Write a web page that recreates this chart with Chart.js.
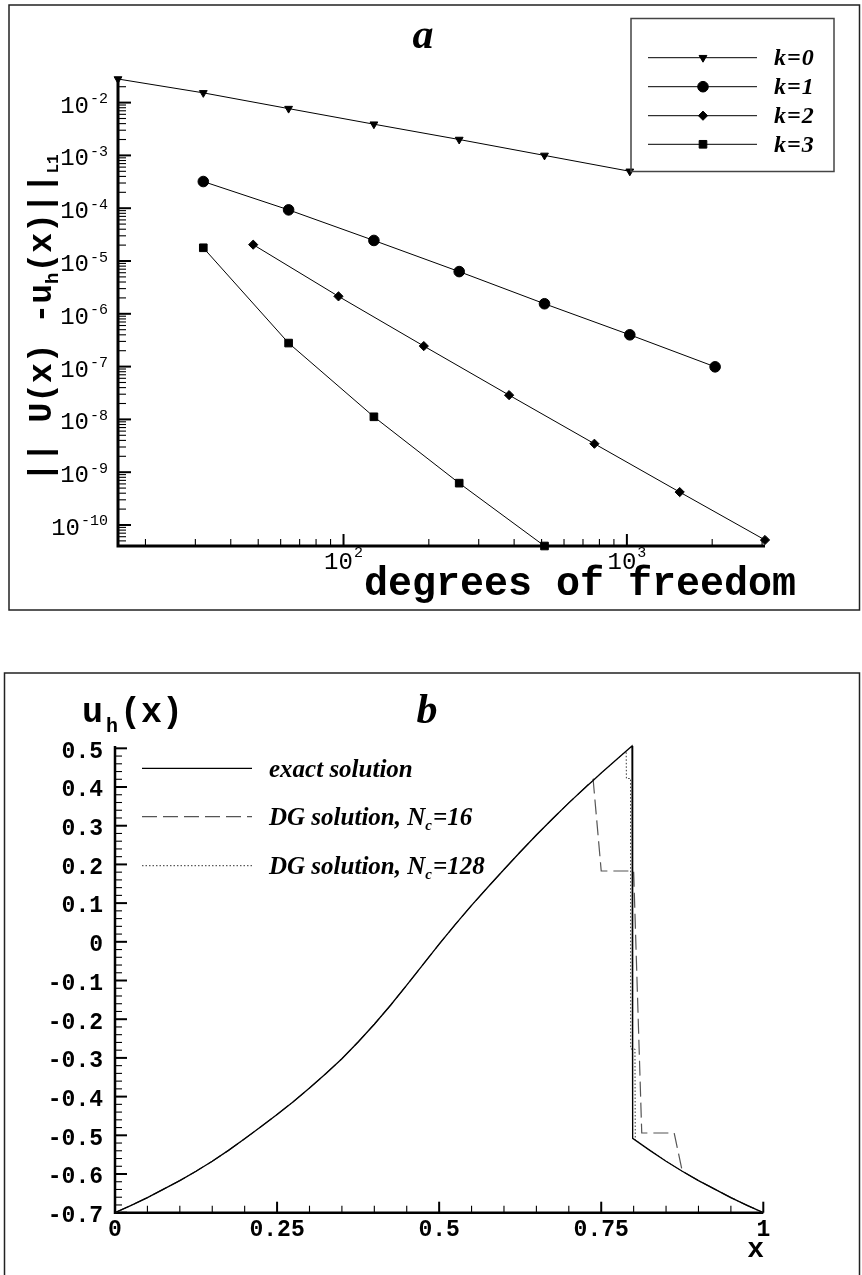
<!DOCTYPE html>
<html>
<head>
<meta charset="utf-8">
<script src="https://cdn.jsdelivr.net/npm/chart.js@4.4.1/dist/chart.umd.min.js"></script>
<style>
  html, body { margin: 0; padding: 0; background: #fff; }
  #wrap { position: relative; width: 862px; height: 1275px; overflow: hidden; }
  canvas { position: absolute; left: 0; }
  #errChart { top: 0; }
  #solChart { top: 640px; }
</style>
</head>
<body>
<div id="wrap">
  <canvas id="errChart" width="862" height="640"></canvas>
  <canvas id="solChart" width="862" height="635"></canvas>
</div>
<script>
// ---------- Panel a: L1 error versus degrees of freedom ----------
const dofK0 = [16, 32, 64, 128, 256, 512, 1024];
const errK0 = [2.8e-2, 1.53e-2, 7.7e-3, 3.9e-3, 2.0e-3, 1.0e-3, 5.0e-4];
const dofK1 = [32, 64, 128, 256, 512, 1024, 2048];
const errK1 = [3.2e-4, 9.3e-5, 2.45e-5, 6.3e-6, 1.55e-6, 4.0e-7, 9.9e-8];
const dofK2 = [48, 96, 192, 384, 768, 1536, 3072];
const errK2 = [2.04e-5, 2.14e-6, 2.45e-7, 2.88e-8, 3.46e-9, 4.2e-10, 5.2e-11];
const dofK3 = [32, 64, 128, 256, 512];
const errK3 = [1.78e-5, 2.79e-7, 1.12e-8, 6.2e-10, 4.0e-11];
const orderNames = ['k=0', 'k=1', 'k=2', 'k=3'];
const errTickExponents = [-2, -3, -4, -5, -6, -7, -8, -9, -10];
const dofTickExponents = [2, 3];

// ---------- Panel b: solution profiles ----------
const exactX = [0, 0.025, 0.05, 0.075, 0.10, 0.125, 0.15, 0.175, 0.20, 0.225, 0.25, 0.275, 0.30, 0.325, 0.35, 0.375,
                0.40, 0.425, 0.45, 0.475, 0.50, 0.525, 0.55, 0.575, 0.60, 0.625, 0.65, 0.675, 0.70, 0.725, 0.7375,
                0.75, 0.775, 0.7975,
                0.7985, 0.825, 0.85, 0.875, 0.90, 0.925, 0.95, 0.975, 1.0];
const exactU = [-0.700, -0.681, -0.661, -0.639, -0.617, -0.593, -0.567, -0.539, -0.509, -0.478, -0.446, -0.413, -0.378, -0.341, -0.302, -0.259,
                -0.213, -0.164, -0.112, -0.059, -0.006, 0.045, 0.094, 0.141, 0.187, 0.232, 0.276, 0.318, 0.359, 0.398, 0.417,
                0.436, 0.473, 0.506,
                -0.508, -0.539, -0.567, -0.593, -0.617, -0.639, -0.661, -0.681, -0.700];
const dg16X = [0, 0.025, 0.05, 0.075, 0.10, 0.125, 0.15, 0.175, 0.20, 0.225, 0.25, 0.275, 0.30, 0.325, 0.35, 0.375,
               0.40, 0.425, 0.45, 0.475, 0.50, 0.525, 0.55, 0.575, 0.60, 0.625, 0.65, 0.675, 0.70, 0.725, 0.7375,
               0.75, 0.80, 0.8125, 0.8625, 0.875, 0.90, 0.925, 0.95, 0.975, 1.0];
const dg16U = [-0.700, -0.681, -0.661, -0.639, -0.617, -0.593, -0.567, -0.539, -0.509, -0.478, -0.446, -0.413, -0.378, -0.341, -0.302, -0.259,
               -0.213, -0.164, -0.112, -0.059, -0.006, 0.045, 0.094, 0.141, 0.187, 0.232, 0.276, 0.318, 0.359, 0.398, 0.420,
               0.183, 0.183, -0.494, -0.494, -0.593, -0.617, -0.639, -0.661, -0.681, -0.700];
const dg128X = [0, 0.025, 0.05, 0.075, 0.10, 0.125, 0.15, 0.175, 0.20, 0.225, 0.25, 0.275, 0.30, 0.325, 0.35, 0.375,
                0.40, 0.425, 0.45, 0.475, 0.50, 0.525, 0.55, 0.575, 0.60, 0.625, 0.65, 0.675, 0.70, 0.725, 0.75, 0.775, 0.7885,
                0.7888, 0.7952, 0.7955, 0.802, 0.8025, 0.825, 0.85, 0.875, 0.90, 0.925, 0.95, 0.975, 1.0];
const dg128U = [-0.700, -0.681, -0.661, -0.639, -0.617, -0.593, -0.567, -0.539, -0.509, -0.478, -0.446, -0.413, -0.378, -0.341, -0.302, -0.259,
                -0.213, -0.164, -0.112, -0.059, -0.006, 0.045, 0.094, 0.141, 0.187, 0.232, 0.276, 0.318, 0.359, 0.398, 0.436, 0.473, 0.493,
                0.422, 0.422, -0.277, -0.277, -0.512, -0.539, -0.567, -0.593, -0.617, -0.639, -0.661, -0.681, -0.700];
const solutionNames = ['exact solution', 'DG solution, N', 'DG solution, N'];
const solutionSubs = ['', 'c', 'c'];
const solutionTails = ['', '=16', '=128'];
const uTickValues = [0.5, 0.4, 0.3, 0.2, 0.1, 0, -0.1, -0.2, -0.3, -0.4, -0.5, -0.6, -0.7];
const uTickLabels = ['0.5', '0.4', '0.3', '0.2', '0.1', '0', '-0.1', '-0.2', '-0.3', '-0.4', '-0.5', '-0.6', '-0.7'];
const xTickValues = [0, 0.25, 0.5, 0.75, 1];
const xTickLabels = ['0', '0.25', '0.5', '0.75', '1'];

const MONO = '"Liberation Mono", "DejaVu Sans Mono", monospace';
const SERIF = '"Liberation Serif", "DejaVu Serif", serif';

const pts = (xs, ys) => xs.map((x, i) => ({ x: x, y: ys[i] }));

function logTicks(min, max) {
  const out = [];
  for (let e = Math.floor(Math.log10(min)); e <= Math.ceil(Math.log10(max)); e++) {
    for (let m = 1; m <= 9; m++) {
      const v = m * Math.pow(10, e);
      if (v >= min * 0.9999 && v <= max * 1.0001) out.push({ v: v, major: m === 1 });
    }
  }
  return out;
}

function drawMarker(ctx, style, radius, rotation, x, y) {
  ctx.save();
  ctx.fillStyle = '#000';
  ctx.strokeStyle = '#000';
  ctx.lineWidth = 1;
  Chart.helpers.drawPoint(ctx, { pointStyle: style, radius: radius, rotation: rotation, borderWidth: 1 }, x, y);
  ctx.restore();
}

const markerSpec = [
  { style: 'triangle', radius: 4.5, rotation: 180 },
  { style: 'circle', radius: 5.3, rotation: 0 },
  { style: 'rectRot', radius: 4.6, rotation: 0 },
  { style: 'rect', radius: 5.4, rotation: 0 }
];

const errorPanel = {
  id: 'errorPanel',
  beforeDatasetsDraw(chart) {
    const { ctx, chartArea: a, scales: { x, y } } = chart;
    ctx.save();
    ctx.strokeStyle = '#000';
    for (const t of logTicks(x.min, x.max)) {
      const px = x.getPixelForValue(t.v);
      ctx.lineWidth = t.major ? 2 : 1.1;
      ctx.beginPath(); ctx.moveTo(px, a.bottom); ctx.lineTo(px, a.bottom - (t.major ? 12 : 7)); ctx.stroke();
    }
    for (const t of logTicks(y.min, y.max)) {
      const py = y.getPixelForValue(t.v);
      ctx.lineWidth = t.major ? 2 : 1.1;
      ctx.beginPath(); ctx.moveTo(a.left, py); ctx.lineTo(a.left + (t.major ? 13 : 8), py); ctx.stroke();
    }
    ctx.lineWidth = 3;
    ctx.beginPath();
    ctx.moveTo(a.left, a.top); ctx.lineTo(a.left, a.bottom); ctx.lineTo(a.right, a.bottom);
    ctx.stroke();
    ctx.restore();
  },
  afterDraw(chart) {
    const { ctx, chartArea: a, scales: { x, y } } = chart;
    ctx.save();
    // frame
    ctx.strokeStyle = '#222';
    ctx.lineWidth = 1.5;
    ctx.strokeRect(9, 5, 850.5, 605);
    ctx.fillStyle = '#000';
    // y tick labels 10^n
    for (const e of errTickExponents) {
      const py = y.getPixelForValue(Math.pow(10, e));
      ctx.font = '15px ' + MONO;
      const sup = String(e);
      const ws = ctx.measureText(sup).width;
      ctx.textAlign = 'left'; ctx.textBaseline = 'alphabetic';
      ctx.fillText(sup, 108 - ws, py + 0.5);
      ctx.font = '24px ' + MONO;
      const wb = ctx.measureText('10').width;
      ctx.fillText('10', 108 - ws - wb - 1, py + 10);
    }
    // x tick labels 10^n
    for (const e of dofTickExponents) {
      const px = x.getPixelForValue(Math.pow(10, e));
      ctx.font = '24px ' + MONO;
      const wb = ctx.measureText('10').width;
      ctx.font = '15px ' + MONO;
      const ws = ctx.measureText(String(e)).width;
      const x0 = px - (wb + ws + 1) / 2;
      ctx.fillText(String(e), x0 + wb + 1, a.bottom + 11);
      ctx.font = '24px ' + MONO;
      ctx.fillText('10', x0, a.bottom + 22.5);
    }
    // x axis title
    ctx.font = 'bold 40px ' + MONO;
    ctx.textAlign = 'left';
    ctx.fillText('degrees of freedom', 364, 595);
    // y axis title (rotated)
    ctx.save();
    ctx.translate(51, 482);
    ctx.rotate(-Math.PI / 2);
    let cx = 0;
    const parts = [['|| U(x) -u', 33, 0], ['h', 19, 7], ['(x)||', 33, 0], ['L1', 16, 7]];
    for (const p of parts) {
      ctx.font = 'bold ' + p[1] + 'px ' + MONO;
      ctx.fillText(p[0], cx, p[2]);
      cx += ctx.measureText(p[0]).width;
    }
    ctx.restore();
    // panel letter
    ctx.font = 'bold italic 42px ' + SERIF;
    ctx.textAlign = 'center';
    ctx.fillText('a', 423, 48);
    // legend
    ctx.strokeStyle = '#444';
    ctx.lineWidth = 1.5;
    ctx.strokeRect(631, 18.5, 203, 153);
    const rows = [57.7, 86.7, 115.7, 144.3];
    ctx.textAlign = 'left';
    ctx.font = 'bold italic 24px ' + SERIF;
    if ('letterSpacing' in ctx) ctx.letterSpacing = '1px';
    rows.forEach((ry, i) => {
      ctx.strokeStyle = '#000';
      ctx.lineWidth = 1;
      ctx.beginPath(); ctx.moveTo(648, ry); ctx.lineTo(757, ry); ctx.stroke();
      const m = markerSpec[i];
      drawMarker(ctx, m.style, m.radius, m.rotation, 703, ry);
      ctx.fillStyle = '#000';
      ctx.fillText(orderNames[i], 774, ry + 7.5);
    });
    ctx.restore();
  }
};

const errSets = [[dofK0, errK0], [dofK1, errK1], [dofK2, errK2], [dofK3, errK3]].map((s, i) => ({
  label: orderNames[i],
  data: pts(s[0], s[1]),
  borderColor: '#000',
  borderWidth: 1,
  pointStyle: markerSpec[i].style,
  pointRadius: markerSpec[i].radius,
  pointRotation: markerSpec[i].rotation,
  pointBackgroundColor: '#000',
  pointBorderColor: '#000',
  pointBorderWidth: 1,
  tension: 0,
  clip: false
}));

new Chart(document.getElementById('errChart'), {
  type: 'line',
  data: { datasets: errSets },
  options: {
    responsive: false,
    animation: false,
    events: [],
    layout: { padding: { left: 118, right: 97, top: 79, bottom: 94 } },
    scales: {
      x: { type: 'logarithmic', min: 16, max: 3072, display: false },
      y: { type: 'logarithmic', min: 4.0e-11, max: 2.8e-2, display: false }
    },
    plugins: { legend: { display: false }, tooltip: { enabled: false } }
  },
  plugins: [errorPanel]
});

// ---------- Panel b drawing ----------
const solStyles = [
  { color: '#000', width: 1.3, dash: [] },
  { color: '#555', width: 1.2, dash: [15, 6] },
  { color: '#333', width: 1, dash: [1.5, 2] }
];

const solutionPanel = {
  id: 'solutionPanel',
  beforeDatasetsDraw(chart) {
    const { ctx, chartArea: a, scales: { x, y } } = chart;
    ctx.save();
    ctx.strokeStyle = '#000';
    for (let k = -35; k <= 25; k++) {
      const v = k * 0.02;
      if (v < y.min - 1e-9 || v > y.max + 1e-9) continue;
      const major = k % 5 === 0;
      const py = y.getPixelForValue(v);
      ctx.lineWidth = major ? 2 : 1.1;
      ctx.beginPath(); ctx.moveTo(a.left, py); ctx.lineTo(a.left + (major ? 12 : 7), py); ctx.stroke();
    }
    for (let k = 0; k <= 20; k++) {
      const v = k * 0.05;
      const major = k % 5 === 0;
      const px = x.getPixelForValue(v);
      ctx.lineWidth = major ? 2 : 1.1;
      ctx.beginPath(); ctx.moveTo(px, a.bottom); ctx.lineTo(px, a.bottom - (major ? 11 : 7)); ctx.stroke();
    }
    ctx.lineWidth = 2.5;
    ctx.beginPath();
    ctx.moveTo(a.left, a.top); ctx.lineTo(a.left, a.bottom); ctx.lineTo(a.right, a.bottom);
    ctx.stroke();
    ctx.restore();
  },
  afterDraw(chart) {
    const { ctx, chartArea: a, scales: { x, y } } = chart;
    ctx.save();
    ctx.strokeStyle = '#222';
    ctx.lineWidth = 1.5;
    ctx.strokeRect(4.5, 33, 855, 700);
    ctx.fillStyle = '#000';
    // tick labels
    ctx.font = 'bold 23px ' + MONO;
    ctx.textAlign = 'right'; ctx.textBaseline = 'middle';
    uTickValues.forEach((v, i) => ctx.fillText(uTickLabels[i], 103, y.getPixelForValue(v) + 3.5));
    ctx.textAlign = 'center';
    xTickValues.forEach((v, i) => ctx.fillText(xTickLabels[i], x.getPixelForValue(v), a.bottom + 17.5));
    ctx.textBaseline = 'alphabetic';
    // axis titles
    ctx.font = 'bold 28px ' + MONO;
    ctx.textAlign = 'right';
    ctx.fillText('x', 764, 617);
    ctx.textAlign = 'left';
    ctx.font = 'bold 35px ' + MONO;
    ctx.fillText('u', 82, 82);
    ctx.font = 'bold 20px ' + MONO;
    ctx.fillText('h', 106, 92);
    ctx.font = 'bold 35px ' + MONO;
    ctx.fillText('(x)', 120, 82);
    // panel letter
    ctx.font = 'bold italic 42px ' + SERIF;
    ctx.textAlign = 'center';
    ctx.fillText('b', 427, 83);
    // legend
    const rows = [128.3, 176.7, 225.7];
    ctx.textAlign = 'left';
    rows.forEach((ry, i) => {
      const s = solStyles[i];
      ctx.strokeStyle = s.color;
      ctx.lineWidth = s.width;
      ctx.setLineDash(s.dash);
      ctx.beginPath(); ctx.moveTo(142, ry); ctx.lineTo(252, ry); ctx.stroke();
      ctx.setLineDash([]);
      let tx = 269;
      ctx.font = 'bold italic 25px ' + SERIF;
      ctx.fillText(solutionNames[i], tx, ry + 8.5);
      tx += ctx.measureText(solutionNames[i]).width;
      if (solutionSubs[i]) {
        ctx.font = 'bold italic 15px ' + SERIF;
        ctx.fillText(solutionSubs[i], tx, ry + 13.5);
        tx += ctx.measureText(solutionSubs[i]).width + 1;
        ctx.font = 'bold italic 25px ' + SERIF;
        ctx.fillText(solutionTails[i], tx, ry + 8.5);
      }
    });
    ctx.restore();
  }
};

const solSets = [[exactX, exactU], [dg16X, dg16U], [dg128X, dg128U]].map((s, i) => ({
  label: solutionNames[i] + solutionSubs[i] + solutionTails[i],
  data: pts(s[0], s[1]),
  borderColor: solStyles[i].color,
  borderWidth: solStyles[i].width,
  borderDash: solStyles[i].dash,
  pointRadius: 0,
  tension: 0,
  clip: false
}));

new Chart(document.getElementById('solChart'), {
  type: 'line',
  data: { datasets: solSets },
  options: {
    responsive: false,
    animation: false,
    events: [],
    layout: { padding: { left: 115, right: 98.7, top: 106, bottom: 62.3 } },
    scales: {
      x: { type: 'linear', min: 0, max: 1, display: false },
      y: { type: 'linear', min: -0.7, max: 0.506, display: false }
    },
    plugins: { legend: { display: false }, tooltip: { enabled: false } }
  },
  plugins: [solutionPanel]
});
</script>
</body>
</html>
